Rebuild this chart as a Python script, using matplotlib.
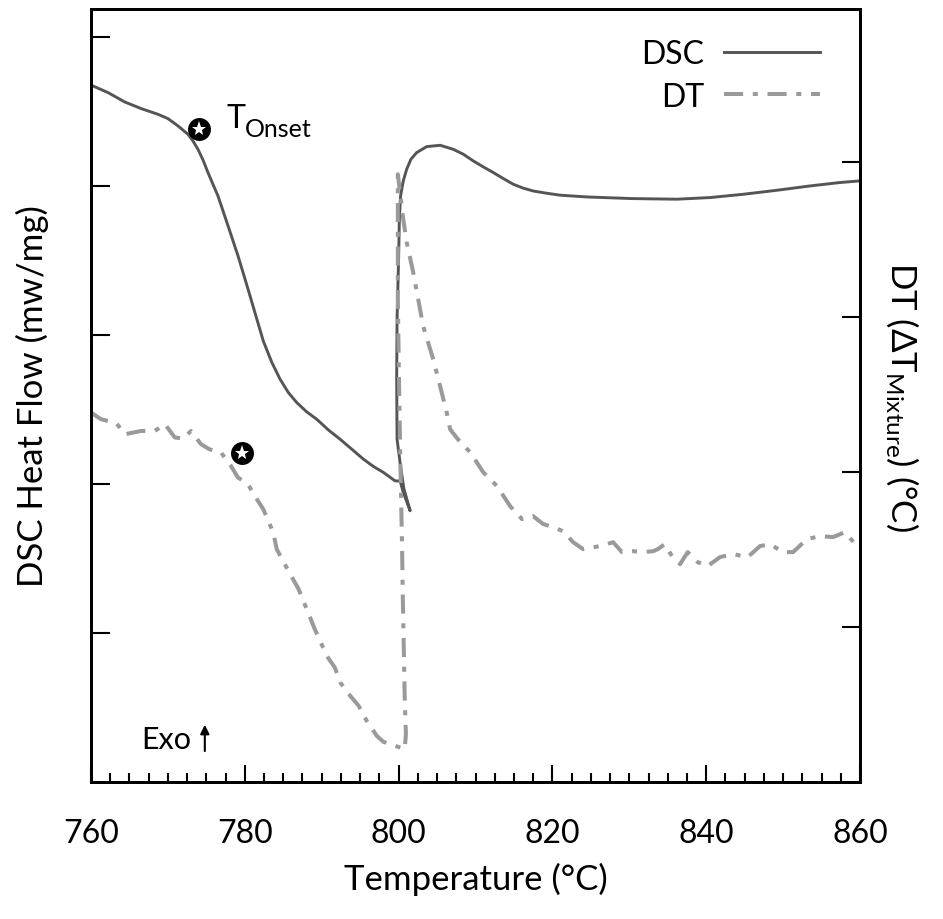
import matplotlib
matplotlib.use("Agg")
import matplotlib.pyplot as plt
from matplotlib.ticker import MultipleLocator

plt.rcParams['font.family'] = ['Lato', 'DejaVu Sans']
plt.rcParams['mathtext.fontset'] = 'custom'
plt.rcParams['mathtext.rm'] = 'Lato'
plt.rcParams['mathtext.it'] = 'Lato:italic'
plt.rcParams['mathtext.bf'] = 'Lato:bold'

# ---------------- data ----------------
dsc_temp = [760.04, 762.21, 764.38, 766.54, 768.71, 770.01, 771.31, 772.61, 773.26, 773.91,
            774.56, 775.21, 775.86, 776.51, 777.17, 777.82, 778.47, 779.12, 779.77, 780.42,
            781.07, 781.72, 782.41, 783.50, 784.58, 785.66, 786.75, 788.05, 789.35, 790.86,
            792.38, 793.90, 795.41, 796.71, 798.01, 799.53,
            800.2, 800.6, 801.5, 800.7, 800.3, 799.8, 799.75, 799.8, 800.0, 800.1,
            800.25, 800.6, 801.05, 801.6, 802.35, 803.65, 805.4,
            807.11, 808.41, 809.71, 811.01, 812.31, 813.61, 814.92, 816.22, 817.52, 819.26,
            820.99, 824.5, 830.5, 836.2, 840.5, 844.8, 849.2, 853.5, 857.4, 860.0]
dsc_flow = [3.678, 3.629, 3.566, 3.521, 3.483, 3.454, 3.405, 3.349, 3.304, 3.248,
            3.177, 3.092, 3.013, 2.935, 2.834, 2.734, 2.633, 2.532, 2.421, 2.309,
            2.195, 2.081, 1.960, 1.819, 1.705, 1.615, 1.548, 1.485, 1.436, 1.364,
            1.302, 1.235, 1.168, 1.119, 1.079, 1.022,
            1.020, 0.946, 0.821, 0.966, 1.101, 1.302, 1.705, 2.107, 2.510, 2.779,
            2.933, 3.034, 3.114, 3.181, 3.226, 3.266, 3.275,
            3.248, 3.215, 3.170, 3.130, 3.092, 3.052, 3.013, 2.987, 2.968, 2.953,
            2.940, 2.928, 2.917, 2.913, 2.924, 2.946, 2.973, 3.002, 3.025, 3.036]

dt_temp = [760.0, 761.3, 763.3, 764.4, 766.5, 768.3, 769.6, 770.9, 772.0, 773.0,
           774.3, 775.4, 776.9, 778.2, 779.1, 780.4, 781.3, 782.4, 783.7, 784.15,
           785.9, 787.0, 788.05, 789.1, 790.65, 791.7, 792.4, 793.7, 794.8, 795.85,
           797.15, 798.0, 799.5, 800.8, 800.95, 800.8, 800.55, 800.45, 800.2, 800.05,
           799.9, 799.9, 799.9, 799.9, 800.3, 800.55, 801.05, 801.9, 803.2, 804.5,
           805.4, 806.25, 806.7, 807.7, 809.3, 811.0, 812.8, 814.5, 816.05, 817.5,
           818.8, 820.1, 821.4, 822.7, 824.0, 826.2, 827.9, 829.05, 830.5, 831.8,
           833.1, 833.7, 834.6, 835.55, 836.6, 837.6, 838.9, 840.2, 841.8, 843.5,
           845.4, 847.0, 848.3, 850.0, 851.3, 853.1, 854.8, 856.5, 858.05, 859.6,
           860.0]
dt_val = [1.385, 1.342, 1.316, 1.245, 1.266, 1.266, 1.310, 1.224, 1.217, 1.266,
          1.181, 1.148, 1.127, 1.041, 0.966, 0.923, 0.847, 0.761, 0.611, 0.503,
          0.342, 0.245, 0.116, -0.013, -0.185, -0.260, -0.357, -0.443, -0.508, -0.605,
          -0.701, -0.740, -0.766, -0.787, -0.690, -0.465, 0.181, 0.523, 1.148, 1.600,
          2.116, 2.503, 2.761, 2.923, 2.761, 2.652, 2.484, 2.290, 1.942, 1.729,
          1.555, 1.387, 1.277, 1.213, 1.129, 1.000, 0.910, 0.781, 0.697, 0.716,
          0.665, 0.645, 0.619, 0.548, 0.503, 0.523, 0.548, 0.484, 0.490, 0.484,
          0.490, 0.503, 0.535, 0.458, 0.406, 0.484, 0.419, 0.394, 0.452, 0.471,
          0.452, 0.523, 0.535, 0.484, 0.484, 0.568, 0.587, 0.581, 0.613, 0.523,
          0.516]

onset_dsc = (774.04, 3.387)
onset_dt = (779.6, 1.121)

x_ticks = [760, 780, 800, 820, 840, 860]
left_ticks = [0, 1, 2, 3, 4]
right_ticks = [0, 1, 2, 3]

# ---------------- figure ----------------
W, H = 943, 920
fig = plt.figure(figsize=(W / 100, H / 100), dpi=100)
ax = fig.add_axes([91 / W, 1 - 783 / H, (860 - 91) / W, (783 - 10) / H])
ax2 = ax.twinx()

dsc_color = '#555555'
dt_color = '#9a9a9a'

l1, = ax.plot(dsc_temp, dsc_flow, color=dsc_color, lw=2.1, label='DSC',
              solid_joinstyle='round', zorder=3)
l2, = ax2.plot(dt_temp, dt_val, color=dt_color, lw=2.9, label='DT',
               dashes=(4.75, 2.4, 1.25, 2.4), zorder=2)

# onset markers
ax.plot([onset_dsc[0]], [onset_dsc[1]], 'o', ms=15.5, color='black', zorder=5)
ax.plot([onset_dsc[0]], [onset_dsc[1]], '*', ms=11, color='white', mew=0, zorder=6)
ax2.plot([onset_dt[0]], [onset_dt[1]], 'o', ms=15.5, color='black', zorder=5)
ax2.plot([onset_dt[0]], [onset_dt[1]], '*', ms=11, color='white', mew=0, zorder=6)

ax.set_xlim(760, 860)
ax.set_ylim(-1.0, 4.19)
ax2.set_ylim(-1.0, 3.99)

ax.set_xticks(x_ticks)
ax.xaxis.set_minor_locator(MultipleLocator(2.5))
ax.set_yticks(left_ticks)
ax2.set_yticks(right_ticks)

fs = 23
lfs = 25
ax.tick_params(axis='x', which='major', direction='in', length=12.5, width=1.5,
               labelsize=fs, pad=26, top=False)
ax.tick_params(axis='x', which='minor', direction='in', length=6.5, width=1.5, top=False)
ax.tick_params(axis='y', direction='in', length=13.5, width=1.5, labelleft=False)
ax2.tick_params(axis='y', direction='in', length=13, width=1.5, labelright=False)

for a in (ax, ax2):
    for s in a.spines.values():
        s.set_linewidth(2.0)

ax.set_xlabel('Temperature (°C)', fontsize=lfs, labelpad=10)
ax.set_ylabel('DSC Heat Flow (mw/mg)', fontsize=lfs, labelpad=30)
ax2.set_ylabel('DT (ΔT$_{\\mathregular{Mixture}}$) (°C)', fontsize=lfs,
               rotation=270, labelpad=44)

# annotations
ax.text(777.56, 3.396, 'T', fontsize=fs, ha='left', va='baseline')
ax.text(780.03, 3.336, 'Onset', fontsize=18, ha='left', va='baseline')
ax.text(0.065, 0.056, 'Exo', fontsize=fs - 1, ha='left', va='center',
        transform=ax.transAxes)
ax.annotate('', xy=(0.148, 0.074), xytext=(0.148, 0.040), xycoords='axes fraction',
            arrowprops=dict(arrowstyle='-|>', color='black', lw=1.5,
                            mutation_scale=13, shrinkA=0, shrinkB=0))

leg = ax.legend(handles=[l1, l2], loc='upper right', frameon=False, markerfirst=False,
                fontsize=fs, handlelength=3.0, handletextpad=0.63, labelspacing=0.4,
                bbox_to_anchor=(1.0, 1.013), borderaxespad=0.85)

fig.savefig('out.png', dpi=100)
